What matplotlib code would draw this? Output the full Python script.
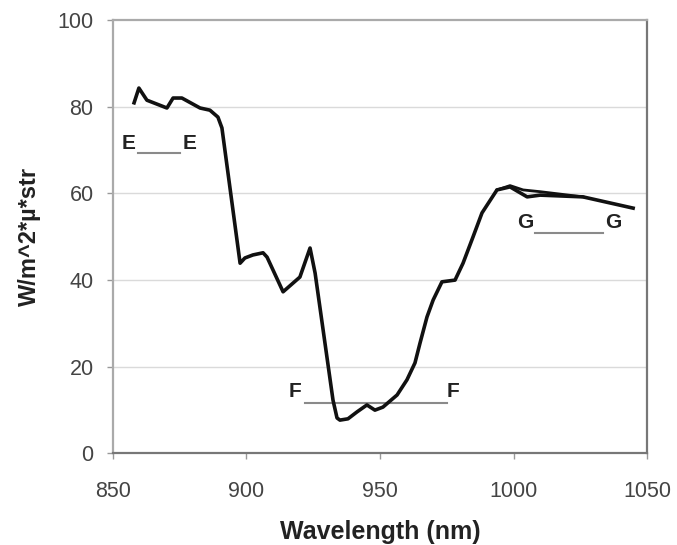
import matplotlib
matplotlib.use("Agg")
import matplotlib.pyplot as plt

plt.rcParams['font.family'] = ['Liberation Sans', 'DejaVu Sans']

# Main radiance curve
wavelength = [857.9, 859.7, 862.7, 870.2, 872.5, 875.8, 882.6, 886.3, 889.3, 890.8,
              897.6, 899.4, 902.4, 906.2, 907.7, 913.7, 920.0, 923.8, 925.7, 932.4,
              933.9, 935.0, 938.0, 941.4, 945.1, 948.1, 951.1, 956.4, 960.1, 963.1,
              965.0, 967.6, 969.9, 973.2, 978.1, 981.1, 984.8, 988.2, 993.8, 998.7,
              1005.1, 1010.0, 1026.0, 1044.8]
radiance = [80.9, 84.3, 81.5, 79.7, 82.0, 82.0, 79.7, 79.2, 77.6, 75.1,
            43.9, 45.1, 45.8, 46.3, 45.3, 37.3, 40.7, 47.4, 41.6, 12.3,
            8.2, 7.7, 8.0, 9.6, 11.2, 10.0, 10.7, 13.5, 17.0, 20.9,
            25.5, 31.5, 35.4, 39.6, 40.0, 43.9, 49.9, 55.5, 60.8, 61.5,
            59.2, 59.6, 59.2, 56.6]

# Second (nearly overlapping) curve where it separates
wavelength2 = [993.8, 998.7, 1003.6, 1009.9, 1026.0]
radiance2 = [60.8, 61.8, 60.8, 60.4, 59.2]

# Band markers: label x positions, label y, bar start/end, bar y
band_labels = ['E', 'F', 'G']
label_left_x = [856.0, 918.2, 1004.3]
label_right_x = [878.5, 977.3, 1037.3]
label_y = [71.6, 14.2, 53.4]
bar_start = [859.4, 921.9, 1008.1]
bar_end = [875.1, 975.1, 1033.5]
bar_y = [69.3, 11.6, 50.9]

x_ticks = [850, 900, 950, 1000, 1050]
y_ticks = [0, 20, 40, 60, 80, 100]

fig = plt.figure(figsize=(6.77, 5.45), dpi=100)
ax = fig.add_axes([0.1669, 0.1679, 0.7888, 0.7954])

ax.set_xlim(850, 1050)
ax.set_ylim(0, 100)
ax.set_xticks(x_ticks)
ax.set_yticks(y_ticks)

for yv in y_ticks[1:-1]:
    ax.axhline(yv, color='#dadada', lw=1.0, zorder=0)

ax.plot(wavelength2, radiance2, color='#111111', lw=2.0, zorder=3)
ax.plot(wavelength, radiance, color='#111111', lw=2.6, zorder=4)

for lab, lx, rx, ly, bs, be, by in zip(band_labels, label_left_x, label_right_x,
                                       label_y, bar_start, bar_end, bar_y):
    ax.plot([bs, be], [by, by], color='#8a8a8a', lw=1.5, zorder=2)
    ax.text(lx, ly, lab, ha='center', va='center', fontsize=15,
            fontweight='bold', color='#222222')
    ax.text(rx, ly, lab, ha='center', va='center', fontsize=15,
            fontweight='bold', color='#222222')

for side, c in [('left', '#aaaaaa'), ('top', '#aaaaaa'),
                ('right', '#777777'), ('bottom', '#777777')]:
    ax.spines[side].set_color(c)
    ax.spines[side].set_linewidth(1.6)

ax.tick_params(axis='both', direction='out', length=4, width=1,
               color='#999999', labelsize=15.5, labelcolor='#444444')
ax.tick_params(axis='x', pad=16)
ax.tick_params(axis='y', pad=10)

ax.set_xlabel('Wavelength (nm)', fontsize=18, fontweight='bold',
              color='#222222', labelpad=13)
ax.set_ylabel('W/m^2*µ*str', fontsize=17, fontweight='bold',
              color='#222222', labelpad=12)

fig.savefig('out.png', dpi=100)
